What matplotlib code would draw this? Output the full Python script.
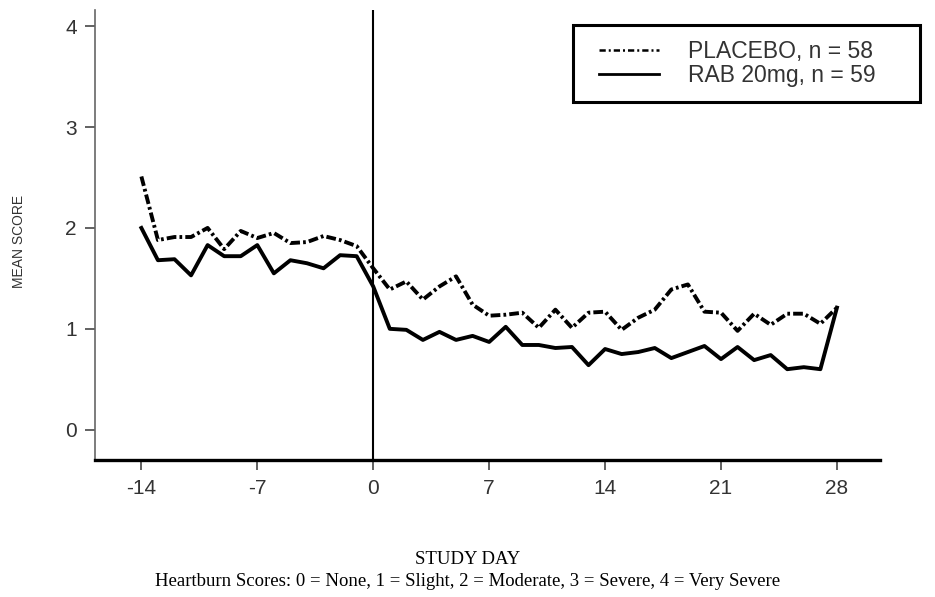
import numpy as np
import matplotlib
matplotlib.use("Agg")
from matplotlib import pyplot as plt
from matplotlib.lines import Line2D
from matplotlib.patches import Rectangle

# Study days and mean heartburn scores
days = list(range(-14, 29))
placebo = [2.51, 1.88, 1.91, 1.91, 2.00, 1.79, 1.97, 1.90, 1.95, 1.85, 1.86, 1.92, 1.88, 1.82,
           1.60,
           1.39, 1.47, 1.29, 1.42, 1.52, 1.24, 1.13, 1.14, 1.16, 1.01, 1.19, 1.01, 1.16, 1.17,
           0.99, 1.11, 1.19, 1.39, 1.44, 1.17, 1.16, 0.98, 1.15, 1.04, 1.15, 1.15, 1.05, 1.21]
rab = [2.00, 1.68, 1.69, 1.53, 1.83, 1.72, 1.72, 1.83, 1.55, 1.68, 1.65, 1.60, 1.73, 1.72,
       1.42,
       1.00, 0.99, 0.89, 0.97, 0.89, 0.93, 0.87, 1.02, 0.84, 0.84, 0.81, 0.82, 0.64, 0.80,
       0.75, 0.77, 0.81, 0.71, 0.77, 0.83, 0.70, 0.82, 0.69, 0.74, 0.60, 0.62, 0.60, 1.21]
xticks = [-14, -7, 0, 7, 14, 21, 28]
yticks = [0, 1, 2, 3, 4]

plt.rcParams['font.family'] = 'Liberation Sans'

fig = plt.figure(figsize=(9.35, 5.97), dpi=100)
ax = fig.add_axes([95 / 935, 137 / 597, 785 / 935, 450 / 597])

ax.plot(days, placebo, color='black', lw=2.8, linestyle=(0, (2.5, 0.8, 0.7, 0.8)))
ax.plot(days, rab, color='black', lw=2.8, linestyle='-')
ax.axvline(0, color='black', lw=1.5)

ax.set_xlim(-16.8, 30.6)
ax.set_ylim(-0.3, 4.16)
ax.set_xticks(xticks)
ax.set_xticklabels([str(t) for t in xticks])
ax.set_yticks(yticks)

for s in ['top', 'right']:
    ax.spines[s].set_visible(False)
ax.spines['left'].set_linewidth(1.2)
ax.spines['left'].set_color('#666666')
ax.spines['bottom'].set_linewidth(2.4)
ax.tick_params(axis='both', colors='#555555', labelcolor='#333333', labelsize=15,
               width=1.3, length=7)
ax.tick_params(axis='x', pad=7)
ax.tick_params(axis='y', pad=6)

ax.set_ylabel("MEAN SCORE", fontsize=10, color='#333333')
ax.yaxis.set_label_coords(-69 / 785, 0.485)

# legend box drawn by hand so the padding can match
fig.patches.append(Rectangle((573 / 935, 1 - 102 / 597), 347 / 935, 77 / 597,
                             transform=fig.transFigure, fill=False,
                             edgecolor='black', lw=2.2))
handles = [Line2D([], [], color='black', lw=1.8, linestyle=(0, (2.5, 1.2, 0.8, 1.2))),
           Line2D([], [], color='black', lw=2.0, linestyle='-')]
leg = ax.legend(handles, ["PLACEBO, n = 58", "RAB 20mg, n = 59"],
                loc='upper left', bbox_to_anchor=(599 / 935, 1 - 40 / 597),
                bbox_transform=fig.transFigure, fontsize=16.5, frameon=False,
                handlelength=2.6, handletextpad=1.3,
                labelspacing=0.05, borderpad=0, borderaxespad=0)
for t in leg.get_texts():
    t.set_color('#333333')

fig.text(0.5, 1 - 560 / 597, "STUDY DAY", ha='center', va='center',
         fontsize=13.5, family='Liberation Serif')
fig.text(0.5, 1 - 581 / 597,
         "Heartburn Scores: 0 = None, 1 = Slight, 2 = Moderate, 3 = Severe, 4 = Very Severe",
         ha='center', va='center', fontsize=13.5, family='Liberation Serif')

plt.savefig("out.png", dpi=100)
